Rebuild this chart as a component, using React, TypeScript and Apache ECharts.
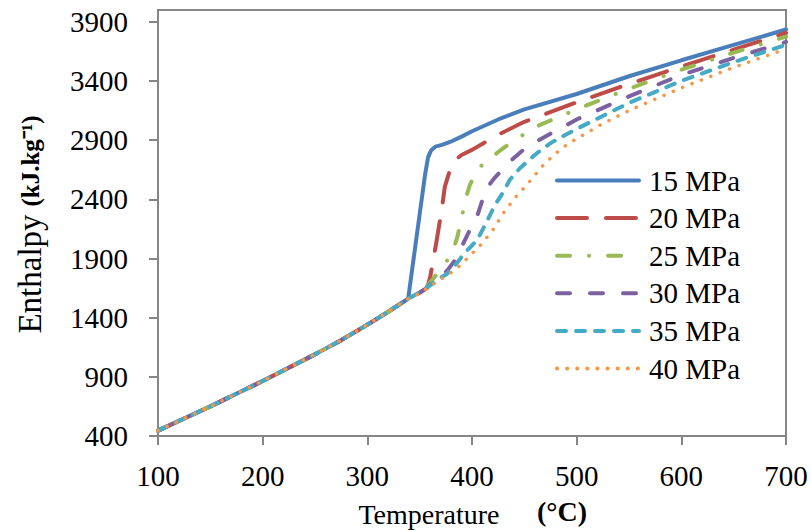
import React, { useEffect, useRef } from "react";
import * as echarts from "echarts";

// Compressed-liquid branch shared by all pressures (T °C, h kJ/kg)
const liquid: [number, number][] = [
  [100, 445], [150, 650], [200, 865], [250, 1090], [275, 1210],
  [300, 1340], [320, 1450], [339, 1560],
];

const h15: [number, number][] = [
  [343, 1820], [347, 2080], [351, 2340], [355, 2600], [358, 2755],
  [361, 2815], [365, 2845], [372, 2862], [379, 2885], [390, 2930],
  [400, 2975], [425, 3075], [450, 3160], [500, 3290], [550, 3440],
  [600, 3575], [650, 3705], [700, 3835],
];
const h20: [number, number][] = [
  [350, 1610], [357, 1650], [360, 1740], [363, 1890], [366, 2040],
  [371, 2310], [374, 2505], [379, 2650], [384, 2733], [390, 2775],
  [400, 2818], [427, 2955], [450, 3055], [500, 3220], [550, 3375],
  [600, 3522], [650, 3665], [700, 3806],
];
const h25: [number, number][] = [
  [353, 1625], [362, 1720], [372, 1829], [378, 1905], [382, 1972],
  [386, 2082], [390, 2243], [395, 2437], [398, 2522], [405, 2649],
  [412, 2710], [419, 2758], [430, 2834], [444, 2919], [465, 3029],
  [500, 3160], [550, 3335], [600, 3495], [650, 3640], [700, 3775],
];
const h30: [number, number][] = [
  [355, 1640], [367, 1736], [376, 1795], [384, 1888], [390, 1998],
  [398, 2141], [405, 2259], [410, 2395], [415, 2505], [421, 2575],
  [427, 2632], [438, 2733], [450, 2825], [462, 2890], [477, 2965],
  [491, 3030], [500, 3075], [550, 3270], [600, 3452], [650, 3595],
  [700, 3730],
];
const h35: [number, number][] = [
  [355, 1640], [367, 1720], [376, 1770], [385, 1855], [393, 1947],
  [405, 2057], [414, 2209], [422, 2353], [430, 2463], [436, 2564],
  [446, 2665], [462, 2790], [475, 2875], [489, 2944], [500, 2995],
  [550, 3215], [600, 3401], [650, 3560], [700, 3705],
];
const h40: [number, number][] = [
  [347, 1592], [360, 1665], [372, 1735], [384, 1803], [396, 1905],
  [410, 2031], [420, 2141], [430, 2285], [441, 2412], [454, 2539],
  [470, 2708], [486, 2834], [498, 2902], [525, 3040], [550, 3150],
  [600, 3342], [650, 3515], [700, 3671],
];

const seriesNames = ["15 MPa", "20 MPa", "25 MPa", "30 MPa", "35 MPa", "40 MPa"];
const seriesData = [h15, h20, h25, h30, h35, h40];
const colors = ["#4A7EBB", "#BE4B48", "#98B954", "#7D60A0", "#46AAC5", "#F79646"];

const yTicks = [400, 900, 1400, 1900, 2400, 2900, 3400, 3900];
const xTicks = [100, 200, 300, 400, 500, 600, 700];

const FONT = '"Liberation Serif", "Times New Roman", serif';
const AXIS_GREY = "#868686";

const styles = [
  { width: 4, type: "solid" as any },
  { width: 4, type: [30, 19] },
  { width: 4, type: [13, 19, 0.1, 19] },
  { width: 4, type: [13, 20] },
  { width: 4, type: [9, 10] },
  { width: 3.5, type: [0.1, 10] },
];

export default function App() {
  const ref = useRef<HTMLDivElement>(null);
  useEffect(() => {
    if (!ref.current) return;
    const chart = echarts.init(ref.current, null, { renderer: "svg" });
    chart.setOption({
      animation: false,
      backgroundColor: "#ffffff",
      grid: {
        left: 158,
        right: 25,
        top: 10,
        bottom: 94,
        show: true,
        borderColor: AXIS_GREY,
        borderWidth: 2,
      },
      xAxis: {
        type: "value",
        min: 100,
        max: 700,
        interval: 100,
        splitLine: { show: false },
        axisLine: { lineStyle: { color: AXIS_GREY, width: 2 } },
        axisTick: { show: true, length: 9, lineStyle: { color: AXIS_GREY, width: 2 }, customValues: xTicks },
        axisLabel: {
          fontSize: 29, color: "#000", fontFamily: FONT, margin: 25, customValues: xTicks,
          formatter: (v: number) => String(v),
        },
      },
      yAxis: {
        type: "value",
        min: 400,
        max: 4000,
        interval: 500,
        splitLine: { show: false },
        axisLine: { show: true, lineStyle: { color: AXIS_GREY, width: 2 } },
        axisTick: { show: true, length: 9, lineStyle: { color: AXIS_GREY, width: 2 }, customValues: yTicks },
        axisLabel: {
          fontSize: 29,
          color: "#000",
          fontFamily: FONT,
          margin: 30,
          customValues: yTicks,
          formatter: (v: number) => String(v),
        },
      },
      legend: {
        orient: "vertical",
        left: 555,
        top: 166,
        padding: 0,
        itemWidth: 82,
        itemHeight: 14,
        itemGap: 8.6,
        data: seriesNames,
        itemStyle: { opacity: 0 },
        lineStyle: { width: 4, cap: "round" },
        textStyle: { fontSize: 29, lineHeight: 29, color: "#000", fontFamily: FONT, padding: [0, 0, 0, 5] },
      },
      series: seriesNames.map((name, i) => ({
        name,
        type: "line",
        data: [...liquid, ...seriesData[i]],
        symbol: "none",
        showSymbol: false,
        color: colors[i],
        lineStyle: { color: colors[i], width: styles[i].width, type: styles[i].type, cap: "round" },
        emphasis: { disabled: true },
        z: 2 + i,
      })),
      graphic: [
        {
          type: "text",
          x: 429,
          y: 514,
          style: { text: "Temperature", font: `28px ${FONT}`, fill: "#000", textAlign: "center", textVerticalAlign: "middle" },
        },
        {
          type: "text",
          x: 562,
          y: 511,
          style: { text: "(°C)", font: `bold 28px ${FONT}`, fill: "#000", textAlign: "center", textVerticalAlign: "middle" },
        },
        {
          type: "text",
          x: 30,
          y: 274,
          rotation: Math.PI / 2,
          style: { text: "Enthalpy", font: `33px ${FONT}`, fill: "#000", textAlign: "center", textVerticalAlign: "middle" },
        },
        {
          type: "text",
          x: 30,
          y: 161,
          rotation: Math.PI / 2,
          style: { text: "(kJ.kg⁻¹)", font: `bold 25px ${FONT}`, fill: "#000", textAlign: "center", textVerticalAlign: "middle" },
        },
      ],
    });
    return () => chart.dispose();
  }, []);
  return <div ref={ref} style={{ position: "fixed", left: 0, top: 0, width: 811, height: 530 }} />;
}
